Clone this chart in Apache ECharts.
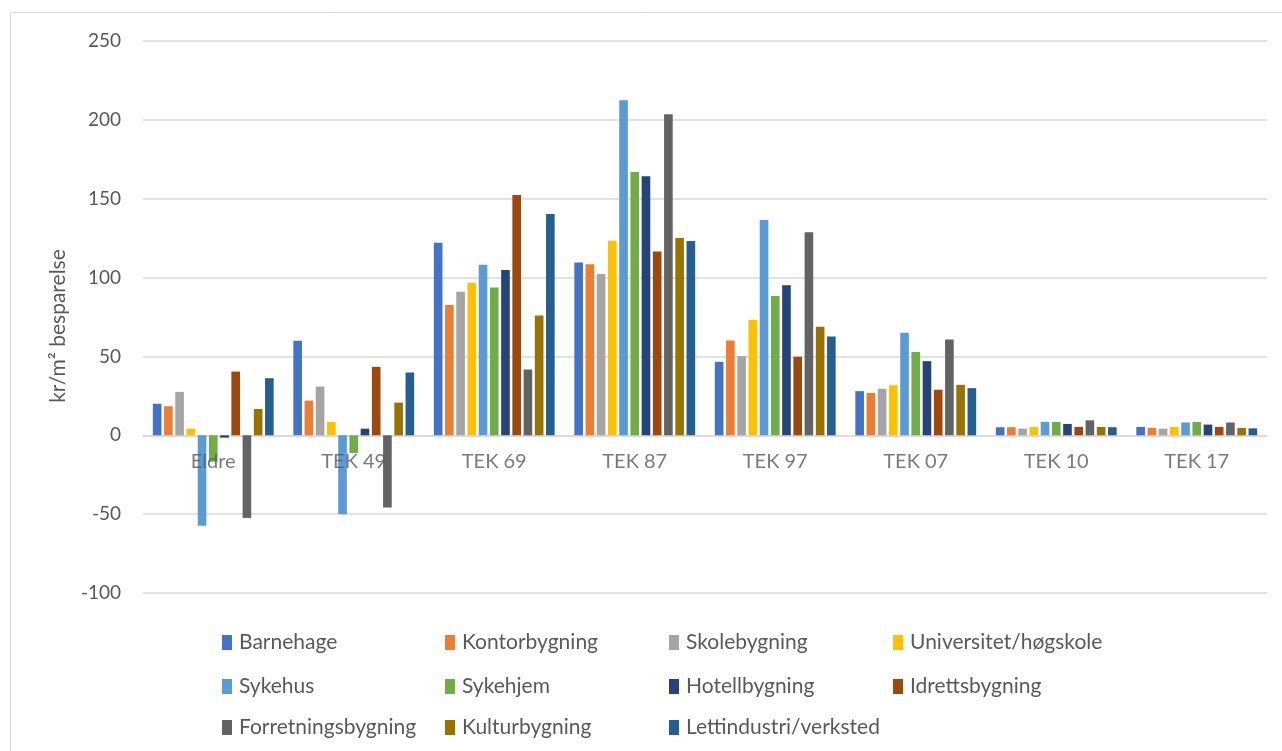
<!DOCTYPE html>
<html>
<head>
<meta charset="utf-8">
<script src="https://cdn.jsdelivr.net/npm/echarts@6/dist/echarts.min.js"></script>
<style>
  html, body { margin: 0; padding: 0; background: #fff; }
  #chart { width: 1282px; height: 751px; }
</style>
</head>
<body>
<div id="chart"></div>
<script>
// Building categories (energy standard periods)
const categories = ['Eldre', 'TEK 49', 'TEK 69', 'TEK 87', 'TEK 97', 'TEK 07', 'TEK 10', 'TEK 17'];

// Savings per building type, kr/m²
const barnehage    = [20, 60, 122, 109.5, 46.6, 28, 5.1, 5.3];
const kontor       = [18.4, 22, 82.6, 108.5, 60.1, 26.8, 5.1, 4.7];
const skole        = [27.5, 30.9, 91, 102.3, 50.2, 29.5, 4.2, 4.2];
const universitet  = [4.2, 8.5, 96.7, 123.4, 73.2, 31.8, 5.3, 5.3];
const sykehus      = [-57.3, -50, 108.1, 212.5, 136.5, 65, 8.5, 8.1];
const sykehjem     = [-16.8, -11.2, 93.7, 166.9, 88.3, 52.8, 8.5, 8.5];
const hotell       = [-1.5, 4.2, 104.8, 164.2, 95.2, 47, 7.2, 6.8];
const idrett       = [40.4, 43.4, 152.3, 116.5, 49.8, 28.9, 5.3, 5.3];
const forretning   = [-52.4, -45.8, 41.7, 203.6, 128.8, 60.8, 9.5, 8.1];
const kultur       = [16.7, 20.7, 76, 125.1, 68.8, 32, 5.3, 4.7];
const lettindustri = [36.2, 39.8, 140.3, 123.2, 62.7, 29.9, 5.1, 4.4];

const seriesNames = [
  'Barnehage', 'Kontorbygning', 'Skolebygning', 'Universitet/høgskole',
  'Sykehus', 'Sykehjem', 'Hotellbygning', 'Idrettsbygning',
  'Forretningsbygning', 'Kulturbygning', 'Lettindustri/verksted'
];
const seriesValues = [
  barnehage, kontor, skole, universitet, sykehus, sykehjem,
  hotell, idrett, forretning, kultur, lettindustri
];

// Y axis ticks
const yMin = -100;
const yMax = 250;
const yStep = 50;

const palette = [
  '#4472C4', '#ED7D31', '#A5A5A5', '#FFC000', '#5B9BD5', '#70AD47',
  '#264478', '#9E480E', '#636363', '#997300', '#255E91'
];

const FONT = 'Lato, "Noto Sans", sans-serif';
const TEXT = '#595959';

// Legend laid out as a 4-column grid, one legend component per entry
const legendCols = [222, 445, 669, 893];
const legendRows = [632, 676, 717];
const legends = seriesNames.map((name, i) => ({
  data: [name],
  left: legendCols[i % 4],
  top: legendRows[Math.floor(i / 4)],
  itemWidth: 10,
  itemHeight: 15,
  itemGap: 0,
  icon: 'rect',
  padding: 0,
  selectedMode: false,
  textStyle: { fontFamily: FONT, fontSize: 21, color: TEXT, padding: [0, 0, 0, 2] }
}));

// Bar series, one per building type
const barSeries = seriesNames.map((name, i) => ({
  name: name,
  type: 'bar',
  data: seriesValues[i],
  barGap: '30%',
  barCategoryGap: '14%',
  itemStyle: { color: palette[i] }
}));

// Category names sit on the zero line and are drawn above the bars
const categoryLabels = {
  type: 'scatter',
  name: '__categoryLabels',
  data: categories.map(c => [c, 0]),
  symbolSize: 0,
  silent: true,
  z: 10,
  label: {
    show: true,
    position: 'bottom',
    distance: 16,
    formatter: p => p.value[0],
    fontFamily: FONT,
    fontSize: 20,
    color: TEXT
  }
};

const chart = echarts.init(document.getElementById('chart'), null, { renderer: 'canvas' });

chart.setOption({
  backgroundColor: '#fff',
  animation: false,
  color: palette,
  textStyle: { fontFamily: FONT },
  graphic: [{
    type: 'rect',
    shape: { x: 10.5, y: 12.5, width: 1290, height: 760 },
    style: { fill: 'none', stroke: '#d9d9d9', lineWidth: 1 },
    silent: true
  }],
  legend: legends,
  grid: { left: 143, right: 15, top: 41, bottom: 158, containLabel: false },
  xAxis: {
    type: 'category',
    data: categories,
    axisLine: { onZero: true, lineStyle: { color: '#d9d9d9', width: 1.5 } },
    axisTick: { show: false },
    axisLabel: { show: false },
    splitLine: { show: false }
  },
  yAxis: {
    type: 'value',
    min: yMin,
    max: yMax,
    interval: yStep,
    name: 'kr/m² besparelse',
    nameLocation: 'middle',
    nameGap: 74,
    nameRotate: 90,
    nameTextStyle: { fontFamily: FONT, fontSize: 21, color: TEXT, padding: [0, 18, 0, 0] },
    axisLine: { show: false },
    axisTick: { show: false },
    axisLabel: { fontFamily: FONT, fontSize: 19, color: TEXT, margin: 22 },
    splitLine: { lineStyle: { color: '#d9d9d9', width: 1.5 } }
  },
  series: barSeries.concat([categoryLabels])
});
</script>
</body>
</html>
